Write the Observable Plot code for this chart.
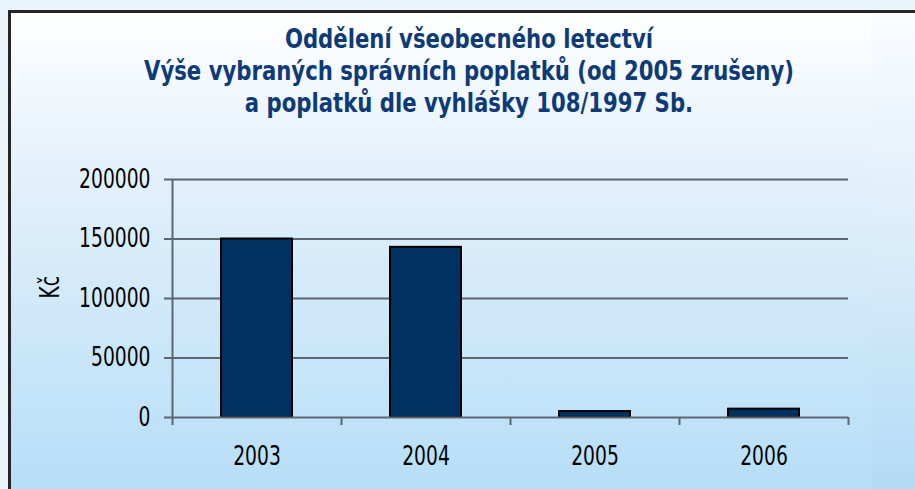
<!DOCTYPE html>
<html>
<head>
<meta charset="utf-8">
<script src="https://cdn.jsdelivr.net/npm/d3@7"></script>
<script src="https://cdn.jsdelivr.net/npm/@observablehq/plot@0.6"></script>
<style>
  html, body { margin: 0; padding: 0; }
  body { width: 915px; height: 489px; overflow: hidden; background: #eaf4fb; position: relative;
         font-family: "DejaVu Sans Condensed", "DejaVu Sans", sans-serif; }
  #frame { position: absolute; left: 8px; top: 10px; width: 907px; height: 479px;
           border-left: 3px solid #262626; border-top: 3px solid #262626;
           background: linear-gradient(to bottom, #ffffff 0%, #e2f0fb 35%, #b6def7 100%); }
  #strip { position: absolute; left: 871px; top: 13px; width: 44px; height: 476px;
           background: linear-gradient(to bottom, #fafcfe 0%, #e4f1fb 35%, #b4dbf5 100%); }
  #title { position: absolute; left: 0; top: 23px; width: 938px; text-align: center;
           font-family: "DejaVu Sans Condensed", "DejaVu Sans", sans-serif;
           font-weight: bold; font-size: 27px; line-height: 32px; color: #0e3a78;
           transform: scaleX(0.873); transform-origin: 469px 0; }
  #chart { position: absolute; left: 0; top: 150px; }
</style>
</head>
<body>
<div id="frame"></div>
<div id="strip"></div>
<div id="title">Oddělení všeobecného letectví<br>Výše vybraných správních poplatků (od 2005 zrušeny)<br>a poplatků dle vyhlášky 108/1997 Sb.</div>
<div id="chart"></div>
<script>
const years = [2003, 2004, 2005, 2006];
const values = [150000, 143000, 5000, 7000];
const yTicks = [0, 50000, 100000, 150000, 200000];
const yLabel = "Kč";

const data = years.map((y, i) => ({year: y, value: values[i]}));
const bounds = years.map(y => y - 0.5).concat([years[years.length - 1] + 0.5]);

const plot = Plot.plot({
  width: 915,
  height: 339,
  marginLeft: 172,
  marginRight: 67,
  marginTop: 29,
  marginBottom: 72,
  style: {background: "transparent", fontFamily: "'DejaVu Sans Condensed', 'DejaVu Sans', sans-serif", fontSize: "26px", color: "#000"},
  x: {domain: [bounds[0], bounds[bounds.length - 1]], axis: null},
  y: {domain: [0, 200000], axis: null},
  marks: [
    Plot.ruleY(yTicks.slice(1), {stroke: "#5b6670", strokeWidth: 2}),
    Plot.rectY(data, {x1: d => d.year - 0.5, x2: d => d.year + 0.5, y: "value", insetLeft: 49, insetRight: 49,
      fill: "#003161", stroke: "#000", strokeWidth: 2}),
    Plot.ruleY([0], {stroke: "#5b6670", strokeWidth: 2}),
    Plot.ruleX([bounds[0]], {y1: 0, y2: 200000, stroke: "#5b6670", strokeWidth: 2}),
    Plot.axisY({ticks: yTicks, tickFormat: d => String(d), tickSize: 8, tickPadding: 14, stroke: "#5b6670", strokeWidth: 2, fontSize: 26, label: null}),
    Plot.axisX({ticks: bounds, tickFormat: () => "", tickSize: 8, stroke: "#5b6670", strokeWidth: 2, label: null}),
    Plot.axisX({ticks: years, tickFormat: d => String(d), tickSize: 0, tickPadding: 29, fontSize: 26, label: null}),
    Plot.text([yLabel], {frameAnchor: "left", dx: -122, text: d => d, rotate: -90, fontSize: 26, fill: "#000"})
  ]
});
// narrow the glyphs to match the condensed face of the original
plot.querySelectorAll("text").forEach(t => {
  const tr = t.getAttribute("transform") || "";
  t.setAttribute("transform", tr + " scale(0.8,1)");
});
document.getElementById("chart").appendChild(plot);
</script>
</body>
</html>
